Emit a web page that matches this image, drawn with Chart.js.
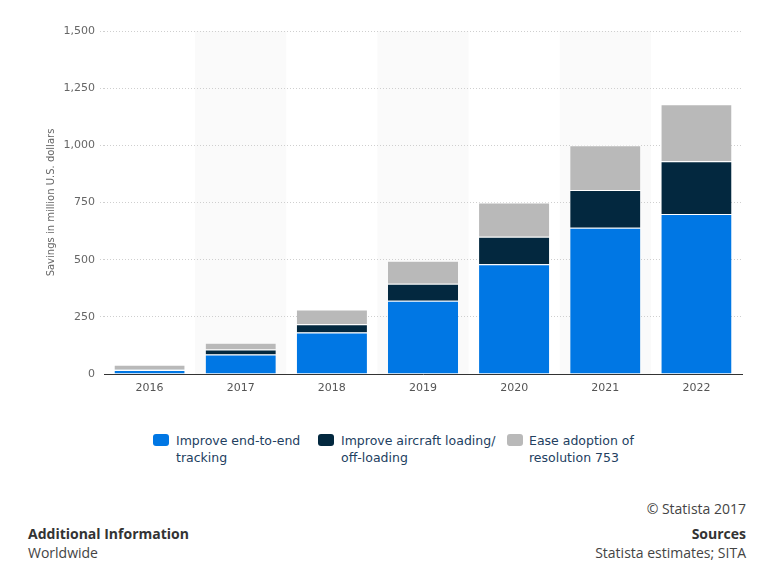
<!DOCTYPE html>
<html>
<head>
<meta charset="utf-8">
<script src="https://cdn.jsdelivr.net/npm/chart.js@4"></script>
<style>
  body { margin: 0; background: #fff; font-family: "Open Sans", sans-serif; }
  #wrap { position: relative; width: 768px; height: 567px; }
  #chart { position: absolute; left: 0; top: 0; }
  .leg { position: absolute; top: 432px; font: 12.5px "DejaVu Sans", sans-serif; color: #22405f; line-height: 17px; }
  .box { position: absolute; top: 434px; width: 16px; height: 12px; border-radius: 3px; }
  .ft { position: absolute; font-size: 14px; color: #444; }
  .b { font-weight: 700; color: #333; }
</style>
</head>
<body>
<div id="wrap">
  <canvas id="chart" width="768" height="410"></canvas>
  <div class="box" style="left:153px;background:#0077e4"></div>
  <div class="leg" style="left:176px">Improve end-to-end<br>tracking</div>
  <div class="box" style="left:318px;background:#03283f"></div>
  <div class="leg" style="left:341px">Improve aircraft loading/<br>off-loading</div>
  <div class="box" style="left:507px;background:#b9b9b9"></div>
  <div class="leg" style="left:529px">Ease adoption of<br>resolution 753</div>

  <div class="ft" style="right:22px;top:499px">© Statista 2017</div>
  <div class="ft b" style="left:28px;top:524px">Additional Information</div>
  <div class="ft" style="left:28px;top:543px">Worldwide</div>
  <div class="ft b" style="right:22px;top:524px">Sources</div>
  <div class="ft" style="right:22px;top:543px">Statista estimates; SITA</div>
</div>
<script>
// data (million U.S. dollars)
const years = ['2016', '2017', '2018', '2019', '2020', '2021', '2022'];
const tracking = [17, 85, 182, 320, 480, 640, 700];
const loading = [3, 22, 36, 75, 120, 165, 230];
const resolution = [20, 30, 64, 100, 150, 195, 250];
const yTicks = [0, 250, 500, 750, 1000, 1250, 1500];

// light bands behind every other year
const bands = {
  id: 'bands',
  beforeDraw(chart) {
    const { ctx, chartArea, scales } = chart;
    const x = scales.x;
    const step = x.getPixelForValue(1) - x.getPixelForValue(0);
    ctx.save();
    ctx.fillStyle = '#fafafa';
    years.forEach((y, i) => {
      if (i % 2 === 1) {
        const c = x.getPixelForValue(i);
        ctx.fillRect(c - step / 2, chartArea.top, step, chartArea.bottom - chartArea.top);
      }
    });
    ctx.restore();
  }
};

const seg = (label, data, color) => ({
  label, data,
  backgroundColor: color,
  borderColor: '#fff',
  borderWidth: { top: 1, left: 0, right: 0, bottom: 0 },
  borderSkipped: false,
  barPercentage: 0.77,
  categoryPercentage: 1
});

new Chart(document.getElementById('chart'), {
  type: 'bar',
  data: {
    labels: years,
    datasets: [
      seg('Improve end-to-end tracking', tracking, '#0077e4'),
      seg('Improve aircraft loading/off-loading', loading, '#03283f'),
      seg('Ease adoption of resolution 753', resolution, '#b9b9b9')
    ]
  },
  options: {
    responsive: false,
    animation: false,
    layout: { padding: { left: 40, right: 26, top: 31, bottom: 0 } },
    plugins: { legend: { display: false }, tooltip: { enabled: false } },
    scales: {
      x: {
        stacked: true,
        grid: { display: false, drawTicks: false },
        border: { display: true, color: '#333', width: 1 },
        ticks: { color: '#555', font: { family: 'DejaVu Sans', size: 11 }, padding: 8 },
        afterFit: (s) => { s.height = 36; }
      },
      y: {
        stacked: true,
        min: 0, max: 1500,
        afterBuildTicks: (s) => { s.ticks = yTicks.map(v => ({ value: v })); },
        afterFit: (s) => { s.width = 64; },
        grid: {
          color: (c) => c.tick && c.tick.value === 0 ? 'rgba(0,0,0,0)' : '#cfcfcf',
          tickLength: 4,
          tickBorderDash: [1, 2]
        },
        border: { display: false, dash: [1, 2] },
        ticks: {
          color: '#666',
          font: { family: 'DejaVu Sans', size: 11 },
          padding: 5,
          callback: (v) => v.toLocaleString('en-US')
        },
        title: {
          display: true,
          text: 'Savings in million U.S. dollars',
          color: '#666',
          font: { family: 'DejaVu Sans', size: 10 },
          padding: { top: 5, bottom: 0 }
        }
      }
    }
  },
  plugins: [bands]
});
</script>
</body>
</html>
